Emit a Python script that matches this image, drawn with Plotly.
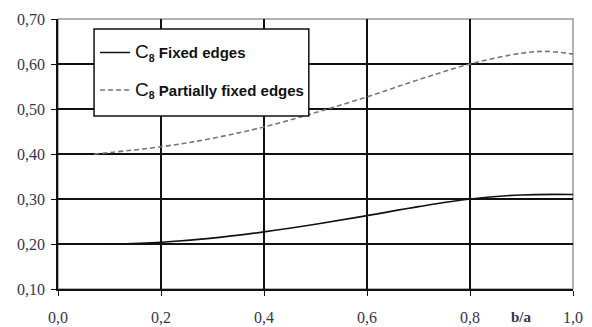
import plotly.graph_objects as go

# b/a ratio and C8 coefficient
ba_fixed = [0.10, 0.20, 0.30, 0.40, 0.50, 0.60, 0.70, 0.80, 0.90, 1.00]
c8_fixed = [0.200, 0.204, 0.213, 0.227, 0.244, 0.263, 0.283, 0.300, 0.309, 0.310]

ba_partial = [0.07, 0.20, 0.30, 0.40, 0.50, 0.60, 0.70, 0.80, 0.90, 0.95, 1.00]
c8_partial = [0.400, 0.416, 0.435, 0.460, 0.492, 0.527, 0.565, 0.600, 0.624, 0.628, 0.622]

x_ticks = [0.0, 0.2, 0.4, 0.6, 0.8, 1.0]
y_ticks = [0.10, 0.20, 0.30, 0.40, 0.50, 0.60, 0.70]

serif = "Liberation Serif, Times New Roman, serif"
sans = "Liberation Sans, Arial, sans-serif"
label_col = "#38344e"

fig = go.Figure()
fig.add_trace(go.Scatter(
    x=ba_fixed, y=c8_fixed, mode="lines", line_shape="spline",
    line=dict(color="#111111", width=1.6),
    name="<span style='font-size:19px;font-weight:normal'>C</span><sub>8</sub> Fixed edges",
    legendgroup="a",
))
fig.add_trace(go.Scatter(
    x=ba_partial, y=c8_partial, mode="lines", line_shape="spline",
    line=dict(color="#777777", width=1.6, dash="5px,3px"),
    name="<span style='font-size:19px;font-weight:normal'>C</span><sub>8</sub> Partially fixed edges",
    legendgroup="b",
))

# grey frame on top and right
fig.add_shape(type="rect", xref="paper", yref="paper", x0=0, y0=0, x1=1, y1=1,
              line=dict(color="#999999", width=1.5), layer="below")
# legend box, white so it hides the curves and grid behind it
fig.add_shape(type="rect", xref="paper", yref="paper", x0=0.07, y0=0.641, x1=0.487, y1=0.963,
              line=dict(color="#111111", width=1.5), fillcolor="white", layer="above")

fig.add_annotation(text="<b>b/a</b>", x=0.9, y=0, xref="x", yref="paper",
                   yanchor="middle", yshift=-28, showarrow=False,
                   font=dict(family=serif, size=15, color=label_col))

# page body has an 8px margin, margins below allow for it
fig.update_layout(
    width=592, height=327,
    margin=dict(l=50, r=27, t=11, b=46, autoexpand=False),
    paper_bgcolor="white", plot_bgcolor="white",
    separators=", ",
    showlegend=True,
    legend=dict(
        x=0.072, y=0.936, xanchor="left", yanchor="top",
        bgcolor="rgba(0,0,0,0)", borderwidth=0,
        font=dict(family=sans, size=15, color="#111111", weight="bold"),
        tracegroupgap=15,
        itemwidth=30,
    ),
)
fig.update_xaxes(
    range=[0, 1], tickvals=x_ticks, tickformat=".1f",
    showgrid=True, gridcolor="#111111", gridwidth=1.5,
    showline=True, linecolor="#111111", linewidth=1.5,
    ticks="outside", ticklen=5, tickcolor="#111111",
    tickfont=dict(family=serif, size=16, color=label_col),
    ticklabelstandoff=8, automargin=False,
    zeroline=False,
)
fig.update_yaxes(
    range=[0.1, 0.7], tickvals=y_ticks, tickformat=".2f",
    showgrid=True, gridcolor="#111111", gridwidth=1.5,
    showline=True, linecolor="#111111", linewidth=1.5,
    ticks="outside", ticklen=5, tickcolor="#111111",
    tickfont=dict(family=serif, size=16, color=label_col),
    ticklabelstandoff=3, automargin=False,
    zeroline=False,
)

fig.write_html("out.html")
